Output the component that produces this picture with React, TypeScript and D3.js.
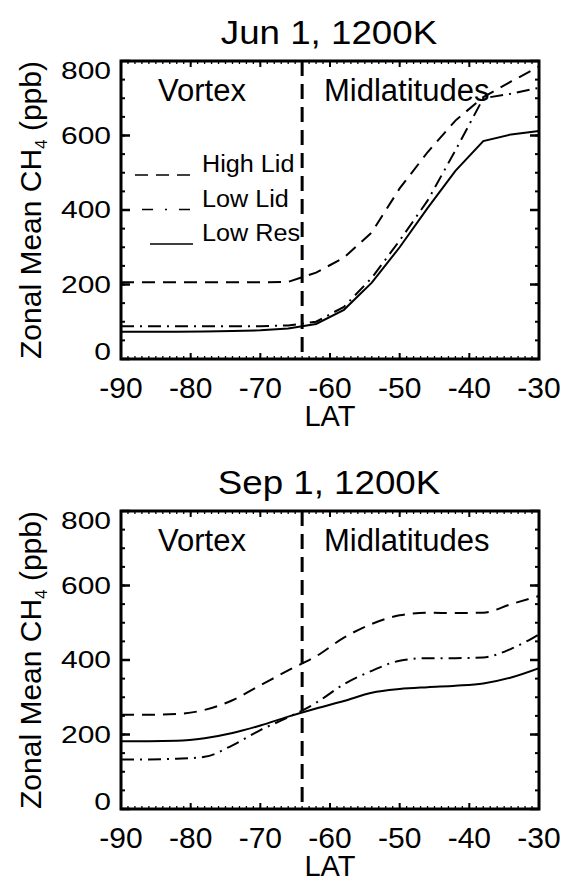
import React, { useEffect } from "react";
import * as d3 from "d3";

// ---- data ----
const LATS = [-90, -86, -82, -78, -74, -70, -66, -62, -58, -54, -50, -46, -42, -38, -34, -30];
const JUN_HIGH_LID = [206, 206, 206, 206, 206, 206, 207, 232, 272, 340, 458, 555, 640, 703, 745, 785];
const JUN_LOW_LID = [88, 88, 88, 88, 88, 88, 90, 100, 140, 218, 318, 425, 560, 700, 712, 728];
const JUN_LOW_RES = [73, 73, 73, 74, 75, 77, 82, 94, 132, 205, 300, 405, 505, 585, 603, 612];
const SEP_HIGH_LID = [253, 253, 255, 266, 292, 332, 372, 410, 460, 497, 520, 527, 526, 527, 550, 572];
const SEP_LOW_LID = [133, 133, 135, 140, 171, 212, 246, 285, 335, 371, 398, 405, 405, 407, 430, 469];
const SEP_LOW_RES = [182, 182, 183, 190, 204, 224, 248, 270, 290, 312, 322, 327, 331, 337, 353, 378];

const X_TICKS = [-90, -80, -70, -60, -50, -40, -30];
const Y_TICKS = [0, 200, 400, 600, 800];
const VORTEX_EDGE = -64;
const SERIES_NAMES = ["High Lid", "Low Lid", "Low Res"];
const TITLES = ["Jun 1, 1200K", "Sep 1, 1200K"];

const FONT = "'Liberation Sans', Arial, Helvetica, sans-serif";
const W = 563;
const H = 881;

const DASHES: Record<string, string | undefined> = {
  "High Lid": "13,8",
  "Low Lid": "13,6,2,6",
  "Low Res": undefined,
};

type PanelProps = {
  top: number;
  title: string;
  series: { name: string; values: number[] }[];
  smooth: boolean;
  legend: boolean;
};

function T(props: {
  x: number;
  y: number;
  size: number;
  sx?: number;
  anchor?: string;
  children: React.ReactNode;
}) {
  const { x, y, size, sx = 1, anchor = "start", children } = props;
  return (
    <text
      transform={`translate(${x},${y}) scale(${sx},1)`}
      fontSize={size}
      fontFamily={FONT}
      textAnchor={anchor}
      fill="#000"
    >
      {children}
    </text>
  );
}

function Panel({ top, title, series, smooth, legend }: PanelProps) {
  const left = 121;
  const right = 539;
  const bottom = top + 298;
  const x = d3.scaleLinear().domain([-90, -30]).range([left, right]);
  const y = d3.scaleLinear().domain([0, 800]).range([bottom, top]);
  const line = d3
    .line<number>()
    .x((_, i) => x(LATS[i]))
    .y((v) => y(v))
    .curve(smooth ? d3.curveMonotoneX : d3.curveLinear);

  const xMinor = d3.range(-90, -29, 1);
  const yMinor = d3.range(0, 801, 50);
  const clipId = `clip${top}`;

  return (
    <g>
      <defs>
        <clipPath id={clipId}>
          <rect x={left} y={top} width={right - left} height={bottom - top} />
        </clipPath>
      </defs>
      <T x={329} y={top - 17} size={34} sx={1.08} anchor="middle">
        {title}
      </T>

      {/* data lines */}
      <g clipPath={`url(#${clipId})`}>
        {series.map((s) => (
          <path
            key={s.name}
            d={line(s.values) || ""}
            fill="none"
            stroke="#000"
            strokeWidth={2}
            strokeDasharray={DASHES[s.name]}
          />
        ))}
      </g>

      {/* vortex edge */}
      <line
        x1={x(VORTEX_EDGE)}
        x2={x(VORTEX_EDGE)}
        y1={top}
        y2={bottom}
        stroke="#000"
        strokeWidth={3}
        strokeDasharray="15,8"
      />

      {/* minor ticks */}
      {xMinor.map((v) => (
        <g key={"xm" + v}>
          <line x1={x(v)} x2={x(v)} y1={bottom} y2={bottom - 3} stroke="#000" strokeWidth={1.3} />
          <line x1={x(v)} x2={x(v)} y1={top} y2={top + 3} stroke="#000" strokeWidth={1.3} />
        </g>
      ))}
      {X_TICKS.map((v) => (
        <g key={"xM" + v}>
          <line x1={x(v)} x2={x(v)} y1={bottom} y2={bottom - 6} stroke="#000" strokeWidth={2} />
          <line x1={x(v)} x2={x(v)} y1={top} y2={top + 6} stroke="#000" strokeWidth={2} />
          <T x={x(v)} y={bottom + 39} size={30} anchor="middle">
            {String(v)}
          </T>
        </g>
      ))}
      {yMinor.map((v) => (
        <g key={"ym" + v}>
          <line x1={left} x2={left + 4} y1={y(v)} y2={y(v)} stroke="#000" strokeWidth={2} />
          <line x1={right} x2={right - 4} y1={y(v)} y2={y(v)} stroke="#000" strokeWidth={2} />
        </g>
      ))}
      {Y_TICKS.map((v) => {
        const base = Math.min(Math.max(y(v) + 8, top + 18), bottom + 1);
        return (
          <g key={"yM" + v}>
            <line x1={left} x2={left + 9} y1={y(v)} y2={y(v)} stroke="#000" strokeWidth={2.5} />
            <line x1={right} x2={right - 9} y1={y(v)} y2={y(v)} stroke="#000" strokeWidth={2.5} />
            <T x={111} y={base} size={24} sx={1.25} anchor="end">
              {String(v)}
            </T>
          </g>
        );
      })}

      {/* frame */}
      <rect
        x={left}
        y={top}
        width={right - left}
        height={bottom - top}
        fill="none"
        stroke="#000"
        strokeWidth={3}
      />

      {/* region labels */}
      <T x={158} y={top + 40} size={31}>
        Vortex
      </T>
      <T x={324} y={top + 40} size={31}>
        Midlatitudes
      </T>

      {/* axis titles */}
      <T x={330} y={bottom + 67} size={29} anchor="middle">
        LAT
      </T>
      <text
        transform={`translate(41,${(top + bottom) / 2}) rotate(-90)`}
        fontSize={30}
        fontFamily={FONT}
        textAnchor="middle"
        fill="#000"
      >
        Zonal Mean CH
        <tspan fontSize={17} dy={6}>
          4
        </tspan>
        <tspan dy={-6}> (ppb)</tspan>
      </text>

      {/* legend */}
      {legend &&
        SERIES_NAMES.map((name, i) => {
          const ly = top + 114 + i * 34.5;
          const x1 = name === "High Lid" ? 135 : name === "Low Lid" ? 142 : 150;
          return (
            <g key={"lg" + name}>
              <line
                x1={x1}
                x2={193}
                y1={ly}
                y2={ly}
                stroke="#000"
                strokeWidth={1.6}
                strokeDasharray={name === "Low Lid" ? "11,12,2,12" : DASHES[name]}
              />
              <T x={202} y={ly - 3} size={24} sx={1.05}>
                {name}
              </T>
            </g>
          );
        })}
    </g>
  );
}

export default function App() {
  useEffect(() => {
    document.body.style.margin = "0";
  }, []);
  const jun = [
    { name: SERIES_NAMES[0], values: JUN_HIGH_LID },
    { name: SERIES_NAMES[1], values: JUN_LOW_LID },
    { name: SERIES_NAMES[2], values: JUN_LOW_RES },
  ];
  const sep = [
    { name: SERIES_NAMES[0], values: SEP_HIGH_LID },
    { name: SERIES_NAMES[1], values: SEP_LOW_LID },
    { name: SERIES_NAMES[2], values: SEP_LOW_RES },
  ];
  return (
    <svg
      width={W}
      height={H}
      viewBox={`0 0 ${W} ${H}`}
      style={{ position: "absolute", left: 0, top: 0, background: "#fff" }}
    >
      <rect x={0} y={0} width={W} height={H} fill="#fff" />
      <Panel top={61} title={TITLES[0]} series={jun} smooth={false} legend={true} />
      <Panel top={511} title={TITLES[1]} series={sep} smooth={true} legend={false} />
    </svg>
  );
}
